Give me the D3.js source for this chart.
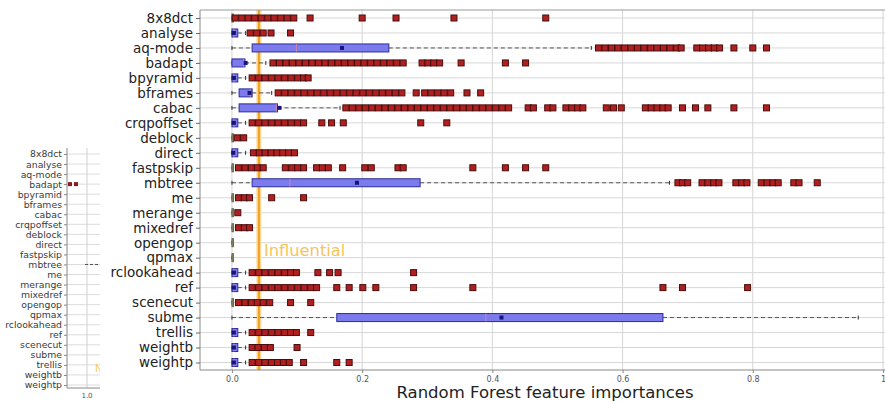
<!DOCTYPE html>
<html><head><meta charset="utf-8">
<script src="https://cdn.jsdelivr.net/npm/d3@7"></script>
<style>body{margin:0;background:#fff}svg{display:block}text{font-family:"DejaVu Sans",sans-serif}</style>
</head><body>
<svg id="chart" width="885" height="402"></svg>
<script>
const categories = ["8x8dct","analyse","aq-mode","badapt","bpyramid","bframes","cabac","crqpoffset","deblock","direct","fastpskip","mbtree","me","merange","mixedref","opengop","qpmax","rclookahead","ref","scenecut","subme","trellis","weightb","weightp"];
const whiskerLow  = [0,0,0,0,0,0,0,0,0,0,0,0,0,0,0,0,0,0,0,0,0,0,0,0];
const q1          = [0,0,0.031,0,0,0.011,0.011,0,0,0,0,0.031,0,0,0,0,0,0,0,0,0.161,0,0,0];
const median      = [0,0.003,0.099,0.018,0.003,0.028,0.068,0.003,0,0.003,0,0.089,0,0,0,0,0,0.003,0.003,0,0.39,0.003,0.003,0.003];
const q3          = [0.002,0.009,0.241,0.02,0.009,0.031,0.07,0.009,0.002,0.009,0.002,0.289,0.002,0.001,0.001,0.001,0.001,0.009,0.009,0.002,0.662,0.009,0.009,0.009];
const whiskerHigh = [0.002,0.021,0.552,0.052,0.021,0.061,0.166,0.021,0.002,0.021,0.002,0.672,0.002,0.001,0.001,0.001,0.001,0.021,0.021,0.002,0.962,0.021,0.021,0.021];
const means       = [0.001,0.003,0.169,0.021,0.003,0.027,0.073,0.003,0.001,0.002,0.001,0.192,0.001,0,0.001,0,0,0.003,0.003,0.001,0.414,0.003,0.003,0.003];
const outlierValues = [
  [0.005,0.015,0.025,0.035,0.045,0.055,0.065,0.075,0.085,0.095,0.12,0.2,0.252,0.341,0.482],
  [0.028,0.038,0.048,0.06,0.09],
  [0.563,0.573,0.583,0.593,0.603,0.613,0.623,0.633,0.643,0.653,0.663,0.673,0.683,0.69,0.714,0.723,0.732,0.741,0.749,0.771,0.8,0.821],
  [0.063,0.073,0.083,0.093,0.103,0.113,0.123,0.133,0.143,0.153,0.163,0.173,0.183,0.193,0.203,0.213,0.223,0.233,0.243,0.253,0.263,0.292,0.301,0.31,0.319,0.352,0.42,0.451],
  [0.031,0.041,0.051,0.061,0.071,0.081,0.091,0.101,0.11,0.117],
  [0.071,0.081,0.091,0.101,0.111,0.121,0.131,0.141,0.151,0.161,0.171,0.181,0.191,0.201,0.211,0.221,0.231,0.241,0.251,0.261,0.283,0.296,0.306,0.316,0.326,0.336,0.361,0.382],
  [0.175,0.185,0.195,0.205,0.215,0.225,0.235,0.245,0.255,0.265,0.275,0.285,0.295,0.305,0.315,0.325,0.335,0.345,0.355,0.365,0.375,0.385,0.395,0.405,0.415,0.425,0.455,0.463,0.485,0.493,0.513,0.522,0.531,0.539,0.575,0.586,0.598,0.635,0.644,0.653,0.662,0.67,0.692,0.712,0.731,0.771,0.821],
  [0.031,0.041,0.051,0.061,0.071,0.081,0.091,0.101,0.11,0.138,0.153,0.171,0.29,0.33],
  [0.008,0.018],
  [0.033,0.042,0.051,0.06,0.069,0.078,0.087,0.096],
  [0.01,0.02,0.03,0.039,0.048,0.082,0.092,0.101,0.11,0.13,0.139,0.148,0.17,0.204,0.214,0.255,0.263,0.37,0.42,0.451,0.482],
  [0.685,0.692,0.7,0.722,0.731,0.74,0.748,0.774,0.783,0.791,0.813,0.822,0.831,0.839,0.863,0.871,0.899],
  [0.01,0.019,0.027,0.061,0.11],
  [0.009],
  [0.01,0.019,0.027],
  [],
  [],
  [0.031,0.041,0.051,0.061,0.071,0.081,0.09,0.099,0.132,0.15,0.163,0.279],
  [0.031,0.041,0.051,0.061,0.071,0.081,0.091,0.101,0.111,0.121,0.13,0.161,0.18,0.201,0.221,0.279,0.37,0.662,0.692,0.792],
  [0.01,0.02,0.03,0.039,0.048,0.058,0.09,0.121],
  [],
  [0.031,0.041,0.051,0.061,0.071,0.081,0.09,0.099,0.121],
  [0.031,0.04,0.05,0.059,0.1],
  [0.031,0.041,0.051,0.061,0.07,0.079,0.088,0.11,0.161,0.18]
];
const xTicks = [0,0.2,0.4,0.6,0.8,1];
const xTickLabels = ["0.0","0.2","0.4","0.6","0.8","1"];
const threshold = 0.0414;
const thresholdLabel = "Influential";
const xTitle = "Random Forest feature importances";
// small partial chart at the left edge
const miniOutliers = [[],[],[],[0.915,0.945],[],[],[],[],[],[],[],[],[],[],[],[],[],[],[],[],[],[],[],[]];
const miniDashed = [[],[],[],[],[],[],[],[],[],[],[],[0.99,1.2],[],[],[],[],[],[],[],[],[],[],[],[]];
const miniTicks = [1.0];
const miniTickLabels = ["1.0"];

const svg = d3.select("#chart");

// ---------- mini chart ----------
const mini = svg.append("g");
mini.append("clipPath").attr("id","miniclip").append("rect").attr("x",0).attr("y",0).attr("width",100).attr("height",402);
const mx = d3.scaleLinear().domain([0.9,1.1]).range([67,107]);
const my = d3.scalePoint().domain(categories).range([154,385]);
const mg = mini.append("g").attr("clip-path","url(#miniclip)");
mg.selectAll(".mh").data(categories).join("line").attr("x1",67).attr("x2",110)
  .attr("y1",d=>my(d)).attr("y2",d=>my(d)).attr("stroke","#dcdcdc").attr("stroke-width",1);
mg.selectAll(".mv").data(miniTicks).join("line").attr("x1",d=>mx(d)).attr("x2",d=>mx(d))
  .attr("y1",148).attr("y2",388).attr("stroke","#d0d0d0");
categories.forEach((c,i)=>{
  if (miniDashed[i].length) mg.append("line").attr("x1",mx(miniDashed[i][0])).attr("x2",mx(miniDashed[i][1]))
    .attr("y1",my(c)).attr("y2",my(c)).attr("stroke","#555").attr("stroke-dasharray","3,2");
  mg.selectAll(null).data(miniOutliers[i]).join("rect").attr("x",d=>mx(d)-2).attr("y",my(c)-2)
    .attr("width",4).attr("height",4).attr("fill","#8b1a1a");
});
mg.append("text").attr("x",95).attr("y",372).attr("font-size",10).attr("fill","#f5c864").text("N");
const myAxis = d3.axisLeft(my).tickSize(3).tickPadding(2);
const myg = mini.append("g").attr("transform","translate(67,0)").call(myAxis);
myg.select(".domain").attr("d","M0,148V388").attr("stroke","#888");
myg.selectAll(".tick line").attr("stroke","#888");
myg.selectAll("text").attr("font-size",9.3).attr("fill","#3a3a3a").attr("font-family","DejaVu Sans");
mini.append("line").attr("x1",67).attr("x2",100).attr("y1",388).attr("y2",388).attr("stroke","#888");
mini.selectAll(".mtl").data(miniTicks).join("text").attr("x",d=>mx(d)).attr("y",398)
  .attr("text-anchor","middle").attr("font-size",7).attr("fill","#555").text((d,i)=>miniTickLabels[i]);

// ---------- main chart ----------
const pLeft = 200, pRight = 885, pTop = 10, pBottom = 370;
const x = d3.scaleLinear().domain([-0.05,1.0]).range([199.4,883]);
const y = d3.scalePoint().domain(categories).range([18,362.5]);
const g = svg.append("g");

// grid
g.selectAll(".vg").data(xTicks).join("line").attr("x1",d=>x(d)).attr("x2",d=>x(d))
  .attr("y1",pTop).attr("y2",pBottom).attr("stroke","#d4d4d4").attr("stroke-width",1);
g.selectAll(".hg").data(categories).join("line").attr("x1",pLeft).attr("x2",pRight)
  .attr("y1",d=>y(d)).attr("y2",d=>y(d)).attr("stroke","#d8d8d8").attr("stroke-width",1);

// threshold line
g.append("line").attr("x1",x(threshold)).attr("x2",x(threshold)).attr("y1",pTop).attr("y2",pBottom)
  .attr("stroke","#f9d999").attr("stroke-width",5);
g.append("line").attr("x1",x(threshold)).attr("x2",x(threshold)).attr("y1",pTop).attr("y2",pBottom)
  .attr("stroke","#f0a21e").attr("stroke-width",2);
g.append("text").attr("x",x(threshold)+5).attr("y",256).attr("font-size",16.3)
  .attr("fill","#f6c45e").text(thresholdLabel);

// boxes
const bh = 8, os = 6;
categories.forEach((c,i)=>{
  const cy = y(c);
  const row = g.append("g");
  if (x(q1[i]) - x(whiskerLow[i]) > 0.5)
    row.append("line").attr("x1",x(whiskerLow[i])).attr("x2",x(q1[i])).attr("y1",cy).attr("y2",cy)
      .attr("stroke","#555").attr("stroke-width",1).attr("stroke-dasharray","4,3");
  if (x(whiskerHigh[i]) - x(q3[i]) > 0.5)
    row.append("line").attr("x1",x(q3[i])).attr("x2",x(whiskerHigh[i])).attr("y1",cy).attr("y2",cy)
      .attr("stroke","#555").attr("stroke-width",1).attr("stroke-dasharray","4,3");
  [whiskerLow[i], whiskerHigh[i]].forEach(v=>{
    row.append("line").attr("x1",x(v)).attr("x2",x(v)).attr("y1",cy-2).attr("y2",cy+2)
      .attr("stroke","#333").attr("stroke-width",1);
  });
  const bw = Math.max(1.5, x(q3[i]) - x(q1[i]));
  row.append("rect").attr("x",x(q1[i])).attr("y",cy-bh/2).attr("width",bw).attr("height",bh)
    .attr("fill", bw>2 ? "#7b7bee" : "#8a8a6a").attr("stroke", bw>2 ? "#2c2c9c" : "#6a6a50").attr("stroke-width",1);
  if (bw>2) {
    row.append("line").attr("x1",x(median[i])).attr("x2",x(median[i])).attr("y1",cy-bh/2).attr("y2",cy+bh/2)
      .attr("stroke","#e08a9a").attr("stroke-width",1).attr("opacity",0.8);
    row.append("rect").attr("x",x(means[i])-2).attr("y",cy-2).attr("width",4).attr("height",4)
      .attr("fill","#16167a");
  }
  row.selectAll(".o").data(outlierValues[i]).join("rect")
    .attr("x",d=>x(d)-os/2).attr("y",cy-os/2).attr("width",os).attr("height",os)
    .attr("fill","#b02020").attr("stroke","#4a0c0c").attr("stroke-width",1);
});

// frame & axes
g.append("line").attr("x1",pLeft).attr("x2",pRight).attr("y1",pTop).attr("y2",pTop).attr("stroke","#9a9a9a");
g.append("line").attr("x1",pLeft).attr("x2",pRight).attr("y1",pBottom).attr("y2",pBottom).attr("stroke","#888");
const yAxis = d3.axisLeft(y).tickSize(4).tickPadding(3);
const yg = g.append("g").attr("transform",`translate(${pLeft},0)`).call(yAxis);
yg.select(".domain").attr("d",`M0,${pTop}V${pBottom}`).attr("stroke","#888");
yg.selectAll(".tick line").attr("stroke","#666");
yg.selectAll("text").attr("font-size",13.5).attr("fill","#222").attr("font-family","DejaVu Sans");
const xAxis = d3.axisBottom(x).tickValues(xTicks).tickSize(3).tickPadding(3).tickFormat((d,i)=>xTickLabels[i]);
const xg = g.append("g").attr("transform",`translate(0,${pBottom})`).call(xAxis);
xg.select(".domain").remove();
xg.selectAll(".tick line").attr("stroke","#888");
xg.selectAll("text").attr("font-size",8).attr("fill","#555").attr("font-family","DejaVu Sans");
g.append("text").attr("x",545).attr("y",398).attr("text-anchor","middle").attr("font-size",16.5)
  .attr("fill","#222").text(xTitle);
</script>
</body></html>
